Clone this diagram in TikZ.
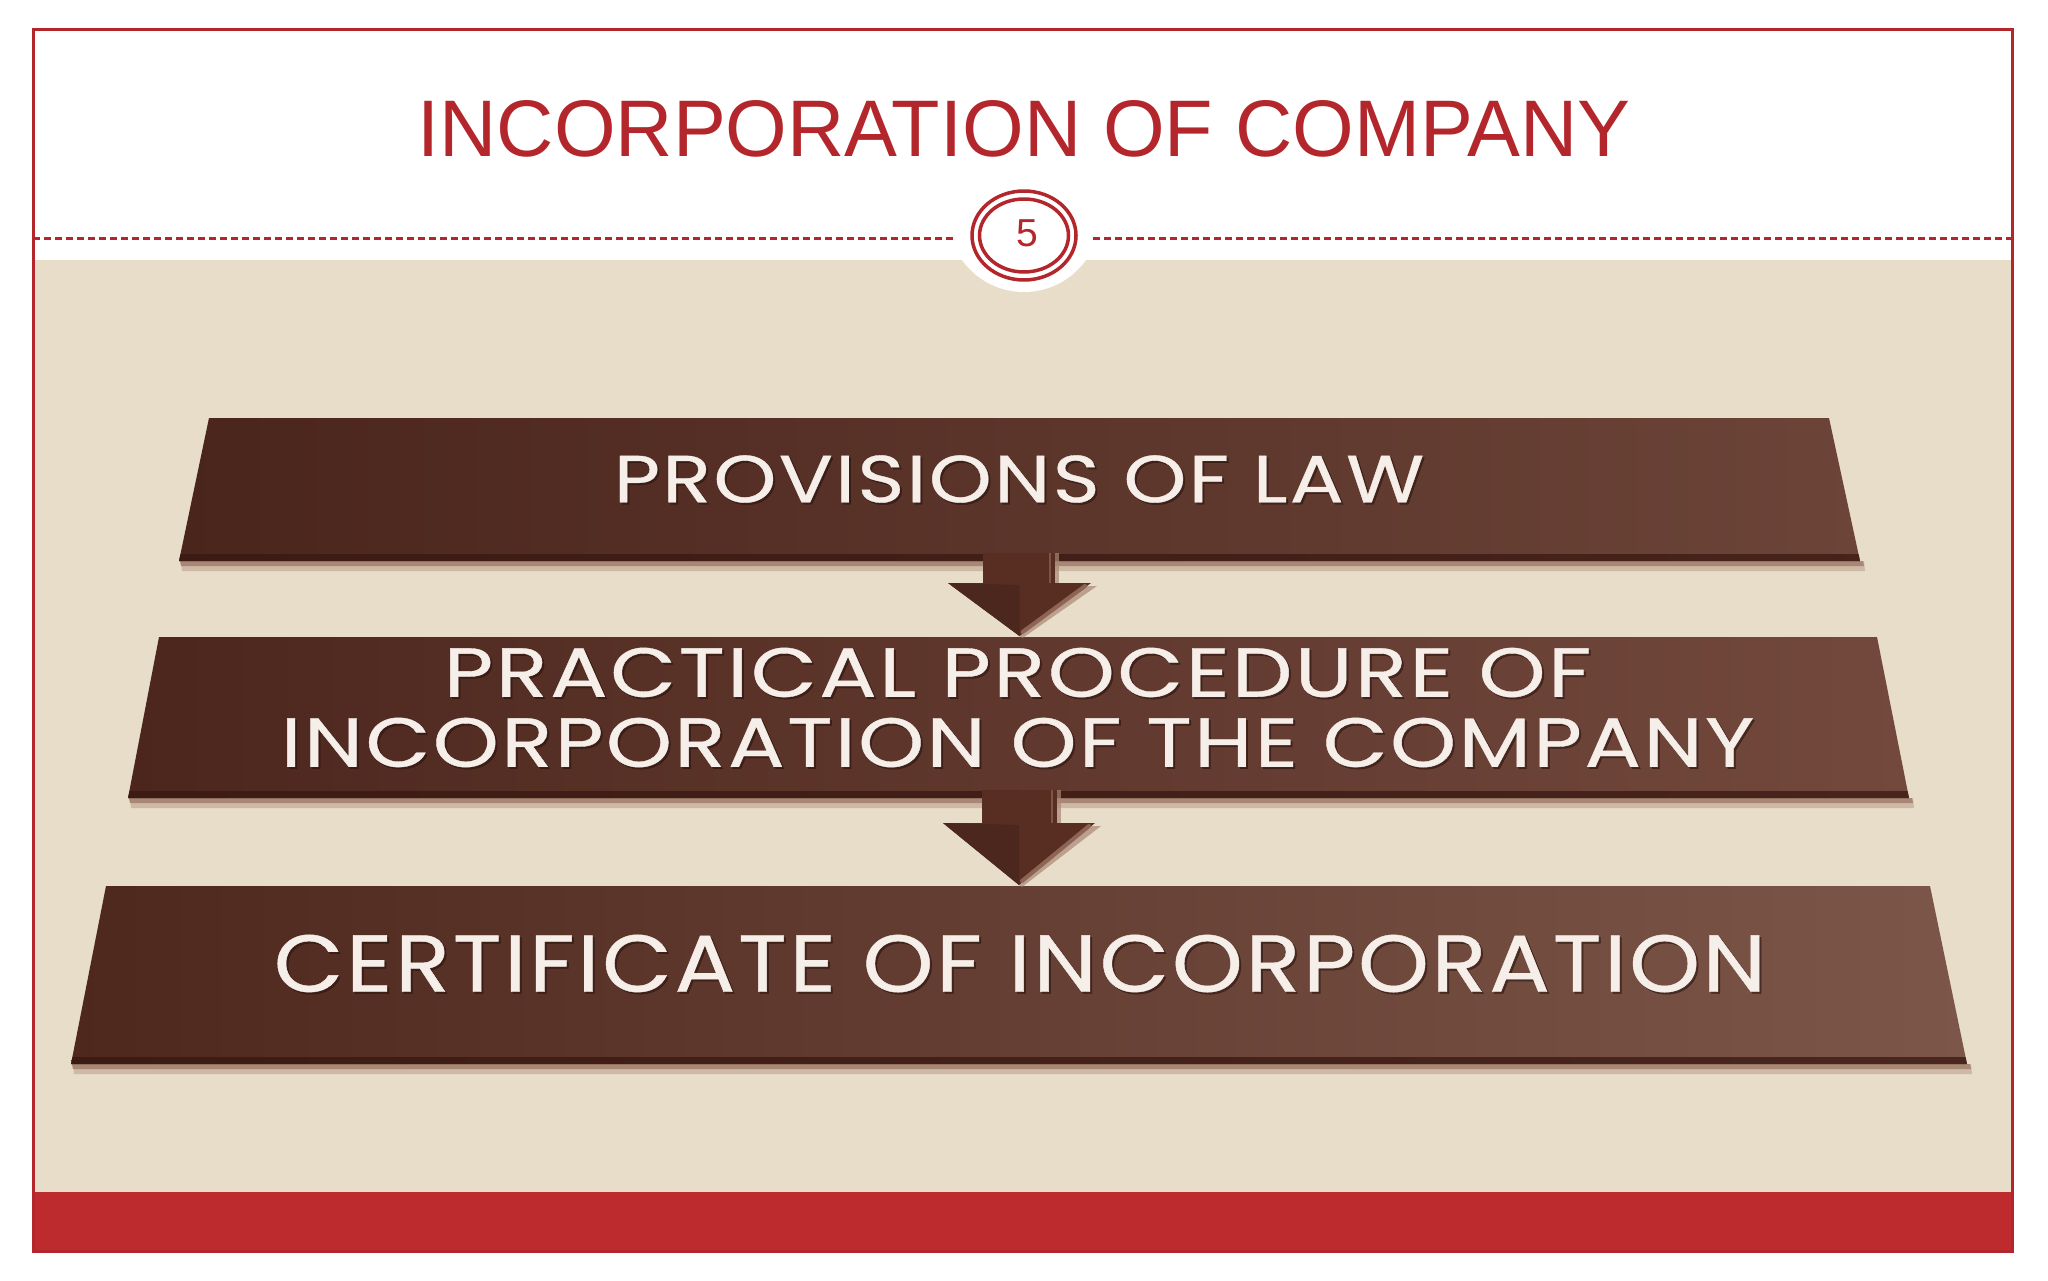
\documentclass[tikz,border=0pt]{standalone}
\usepackage{fontspec}
\usepackage{graphicx}
\setmainfont{Liberation Sans}
\newfontfamily\barfont[LetterSpace=3,FakeBold=0.5]{Poppins}
\definecolor{framered}{HTML}{B3262C}
\definecolor{beige}{HTML}{E7DDC8}
\definecolor{bandred}{HTML}{BE2B2E}
\definecolor{shadowA}{HTML}{A88775}
\definecolor{shadowB}{HTML}{CDB9A6}
\definecolor{edgedark}{HTML}{3C1B14}
\definecolor{arrowc}{HTML}{582E23}
\definecolor{arrowlight}{HTML}{8E6454}
\definecolor{textc}{HTML}{F5EEE9}
\definecolor{textsh}{HTML}{2A120C}
\definecolor{barAl}{HTML}{4A251C}
\definecolor{barAr}{HTML}{6C4438}
\definecolor{barBl}{HTML}{4C261D}
\definecolor{barBr}{HTML}{73493D}
\definecolor{barCl}{HTML}{4E271D}
\definecolor{barCr}{HTML}{7C5749}
\tikzset{
  bartext/.style={text=textc, inner sep=0pt, anchor=center, font=\barfont},
  barshadowtext/.style={text=textsh, opacity=0.55, inner sep=0pt, anchor=center, font=\barfont},
}
% #1 top y, #2 bottom y, #3 TL x, #4 TR x, #5 BL x, #6 BR x, #7 left colour, #8 right colour
\newcommand\stepbar[8]{%
  \fill[shadowB] (#5+2,#2) -- (#6+4,#2) -- (#6+5,#2+10) -- (#5+3,#2+10) -- cycle;
  \fill[shadowA] (#5+1,#2) -- (#6+3,#2) -- (#6+4,#2+5) -- (#5+2,#2+5) -- cycle;
  \shade[left color=#7, right color=#8] (#3,#1) -- (#4,#1) -- (#6,#2) -- (#5,#2) -- cycle;
  \shade[left color=edgedark, right color=edgedark!80!#8] (#5+1.5,#2-7) -- (#6-1.5,#2-7) -- (#6,#2) -- (#5,#2) -- cycle;
}
\newcommand\blockarrow[7]{% #1 shaft left, #2 shaft right, #3 shaft top, #4 head y, #5 head left, #6 head right, #7 tip y
  \fill[shadowA,opacity=0.7] (#1+4,#3) rectangle (#2+4,#4+2);
  \fill[shadowA,opacity=0.7] (#5+4,#4+3) -- (#6+6,#4+3) -- ({(#5+#6)/2+3},#7+2) -- cycle;
  \fill[arrowc] (#1,#3) rectangle (#2,#4+1);
  \fill[arrowc] (#5,#4) -- (#6,#4) -- ({(#5+#6)/2},#7) -- cycle;
  \fill[arrowc!85!black] (#5,#4) -- ({(#5+#6)/2},#4+2) -- ({(#5+#6)/2},#7) -- cycle;
  \draw[arrowlight, line width=4pt, line cap=round] (#6-6,#4+3) -- ({(#5+#6)/2+3},#7-4);
  \draw[arrowlight!70!arrowc, line width=2pt] (#2-5,#3) -- (#2-5,#4);
}
\begin{document}
\begin{tikzpicture}[x=1pt,y=-1pt]
\useasboundingbox (0,0) rectangle (2048,1280);
\fill[white] (0,0) rectangle (2048,1280);
% background areas
\fill[beige] (33,260) rectangle (2012,1192);
\fill[bandred] (33,1192) rectangle (2012,1251);
\fill[white] (1024,216) circle[radius=76pt];
% dashed separator
\coordinate (dl0) at (33,238);
\coordinate (dl1) at (953,238);
\coordinate (dr0) at (1093,238);
\coordinate (dr1) at (2012,238);
\draw[framered, line width=3pt, dash pattern=on 7pt off 4pt] (dl0) -- (dl1);
\draw[framered, line width=3pt, dash pattern=on 7pt off 4pt] (dr0) -- (dr1);
% frame
\draw[framered, line width=3pt] (33,29) rectangle (2012,1251);
% title
\node[text=framered, inner sep=0pt] (title) at (1024,129)
  {\resizebox{1212pt}{56pt}{INCORPORATION OF COMPANY}};
% page number badge
\draw[framered, line width=3.5pt] (1024,235.5) ellipse[x radius=52pt, y radius=44.5pt];
\draw[framered, line width=3.5pt] (1024,235.5) ellipse[x radius=44.5pt, y radius=36.5pt];
\node[text=framered, inner sep=0pt, font=\fontsize{39}{40}\selectfont] (num) at (1027,233) {5};
% bars
\stepbar{418}{561}{209}{1829}{179}{1860}{barAl}{barAr}
\stepbar{637}{798}{159}{1877}{128}{1909}{barBl}{barBr}
\stepbar{886}{1064}{106}{1930}{71}{1967}{barCl}{barCr}
% arrows
\blockarrow{983}{1055}{553}{583}{948}{1091}{636}
\blockarrow{982}{1057}{790}{823}{943}{1095}{885}
% texts
\node[barshadowtext] at (1021,481) {\resizebox{810pt}{47pt}{PROVISIONS OF LAW}};
\node[bartext] (t1) at (1019,479) {\resizebox{810pt}{47pt}{PROVISIONS OF LAW}};
\node[barshadowtext] at (1019.5,674.5) {\resizebox{1147pt}{49pt}{PRACTICAL PROCEDURE OF}};
\node[bartext] (t2a) at (1017.5,672.5) {\resizebox{1147pt}{49pt}{PRACTICAL PROCEDURE OF}};
\node[barshadowtext] at (1019.5,744.5) {\resizebox{1473pt}{49pt}{INCORPORATION OF THE COMPANY}};
\node[bartext] (t2b) at (1017.5,742.5) {\resizebox{1473pt}{49pt}{INCORPORATION OF THE COMPANY}};
\node[barshadowtext] at (1022,965.5) {\resizebox{1492pt}{57pt}{CERTIFICATE OF INCORPORATION}};
\node[bartext] (t3) at (1020,963.5) {\resizebox{1492pt}{57pt}{CERTIFICATE OF INCORPORATION}};
\end{tikzpicture}
\end{document}
